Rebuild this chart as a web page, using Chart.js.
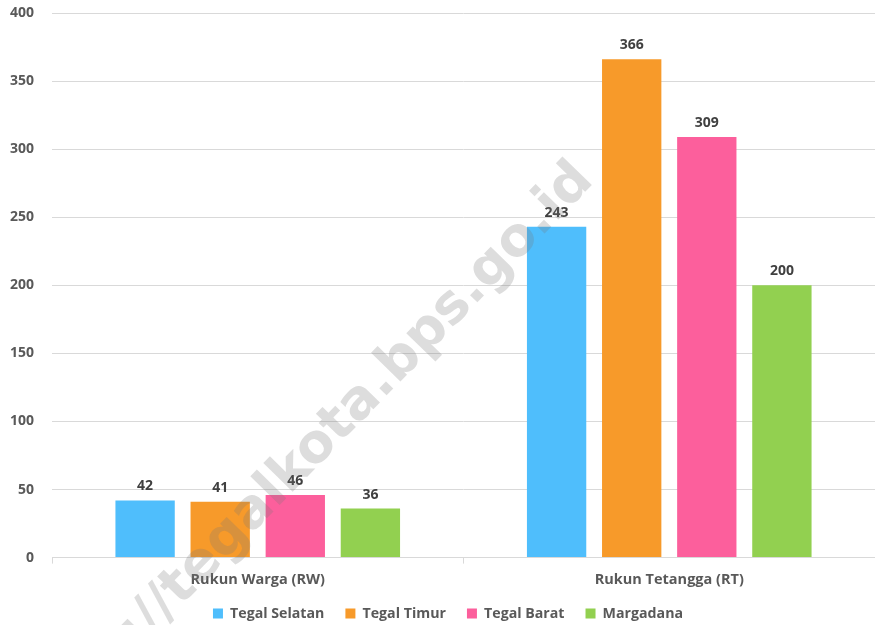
<!DOCTYPE html>
<html>
<head>
<meta charset="utf-8">
<script src="https://cdn.jsdelivr.net/npm/chart.js@4/dist/chart.umd.min.js"></script>
<style>
  html, body { margin: 0; padding: 0; background: #ffffff; }
  #wrap { width: 875px; height: 625px; position: relative; }
</style>
</head>
<body>
<div id="wrap"><canvas id="c" width="875" height="625"></canvas></div>
<script>
const categories = ['Rukun Warga (RW)', 'Rukun Tetangga (RT)'];
const seriesNames = ['Tegal Selatan', 'Tegal Timur', 'Tegal Barat', 'Margadana'];
const tegalSelatan = [42, 243];
const tegalTimur = [41, 366];
const tegalBarat = [46, 309];
const margadana = [36, 200];
const yTicks = [0, 50, 100, 150, 200, 250, 300, 350, 400];
const watermarkText = 'https://tegalkota.bps.go.id';

const colors = ['#4fbefc', '#f79a2a', '#fc5f9c', '#92d050'];
const seriesValues = [tegalSelatan, tegalTimur, tegalBarat, margadana];

const FONT = '"Open Sans", "Liberation Sans", sans-serif';
const TEXT = '#595959';

const valueLabels = {
  id: 'valueLabels',
  afterDatasetsDraw(chart) {
    const ctx = chart.ctx;
    ctx.save();
    ctx.font = 'bold 14px ' + FONT;
    ctx.fillStyle = '#404040';
    ctx.textAlign = 'center';
    ctx.textBaseline = 'alphabetic';
    chart.data.datasets.forEach((ds, i) => {
      const meta = chart.getDatasetMeta(i);
      meta.data.forEach((bar, j) => {
        ctx.fillText(String(ds.data[j]), bar.x, bar.y - 10);
      });
    });
    ctx.restore();
  }
};

const watermark = {
  id: 'watermark',
  afterDraw(chart) {
    const ctx = chart.ctx;
    ctx.save();
    ctx.font = 'bold 54px "DejaVu Sans", sans-serif';
    const prefix = watermarkText.slice(0, watermarkText.indexOf('.'));
    const off = ctx.measureText(prefix).width + ctx.measureText('.').width / 2;
    ctx.translate(390, 392);
    ctx.rotate(-45.7 * Math.PI / 180);
    ctx.fillStyle = 'rgba(120,120,120,0.25)';
    ctx.textAlign = 'left';
    ctx.textBaseline = 'alphabetic';
    ctx.fillText(watermarkText, -off, 0);
    ctx.restore();
  }
};

const legendShift = {
  id: 'legendShift',
  afterLayout(chart) {
    if (chart.legend) {
      chart.legend.left += 21;
      chart.legend.top -= 11.6;
    }
  }
};

new Chart(document.getElementById('c'), {
  type: 'bar',
  data: {
    labels: categories,
    datasets: seriesNames.map((name, i) => ({
      label: name,
      data: seriesValues[i],
      backgroundColor: colors[i],
      borderWidth: 0,
      barPercentage: 0.79,
      categoryPercentage: 0.73
    }))
  },
  options: {
    responsive: false,
    animation: false,
    devicePixelRatio: 1,
    layout: { padding: { top: 13, right: 0, left: 0, bottom: -14 } },
    plugins: {
      legend: {
        position: 'bottom',
        maxHeight: 42,
        labels: {
          boxWidth: 10,
          boxHeight: 10,
          padding: 21,
          color: TEXT,
          font: { family: FONT, size: 14.2, weight: 'bold' }
        }
      },
      tooltip: { enabled: false }
    },
    scales: {
      x: {
        offset: true,
        grid: {
          offset: true,
          drawOnChartArea: false,
          drawTicks: true,
          tickLength: 6,
          color: '#d9d9d9'
        },
        border: { display: true, color: '#d9d9d9', width: 1 },
        ticks: {
          color: TEXT,
          padding: 8,
          font: { family: FONT, size: 14.5, weight: 'bold' }
        }
      },
      y: {
        min: 0,
        max: 400,
        afterBuildTicks(axis) { axis.ticks = yTicks.map(v => ({ value: v })); },
        grid: { color: '#d9d9d9', drawTicks: false },
        border: { display: false },
        ticks: {
          color: TEXT,
          padding: 18,
          font: { family: FONT, size: 14, weight: 'bold' }
        },
        afterFit(scale) {
          scale.width = 52;
          scale.paddingTop = 0;
          scale.paddingBottom = 0;
        }
      }
    }
  },
  plugins: [valueLabels, watermark, legendShift]
});
</script>
</body>
</html>
